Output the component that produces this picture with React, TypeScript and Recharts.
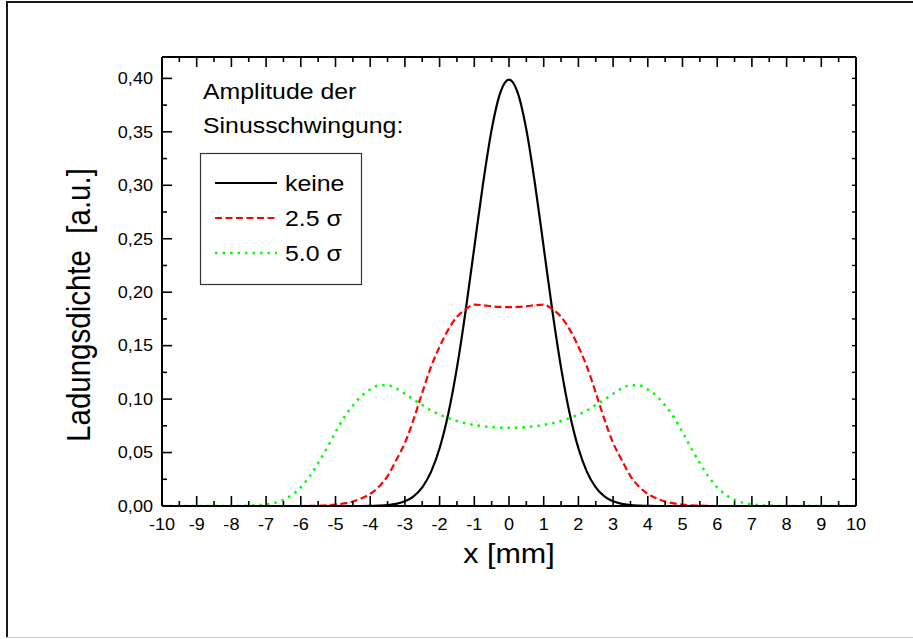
import { LineChart, Line, XAxis, YAxis, Legend } from 'recharts';

const FONT = 'Arial, "Liberation Sans", sans-serif';
// glyphs in this figure are drawn slightly wider than tall
const STRETCH = 1.13;

// positions along x [mm]
const xPositions = [
  -10, -9,
  -8, -7.75, -7.5, -7.25, -7, -6.75, -6.5, -6.25, -6, -5.75, -5.5, -5.25, -5, -4.75, -4.5, -4.25,
  -4, -3.75, -3.5, -3.25, -3, -2.75, -2.5, -2.25, -2, -1.75, -1.5, -1.25, -1, -0.75, -0.5, -0.25,
  0,
  0.25, 0.5, 0.75, 1, 1.25, 1.5, 1.75, 2, 2.25, 2.5, 2.75, 3, 3.25, 3.5, 3.75, 4,
  4.25, 4.5, 4.75, 5, 5.25, 5.5, 5.75, 6, 6.25, 6.5, 6.75, 7, 7.25, 7.5, 7.75, 8,
  9, 10,
];

// charge density, no oscillation
const keine = [
  0, 0,
  0, 0, 0, 0, 0, 0, 0, 0, 0, 0, 0, 0, 0, 0, 0, 0,
  0.0001, 0.0004, 0.0009, 0.002, 0.0044, 0.0091, 0.0175, 0.0317, 0.054, 0.0863, 0.1295, 0.1826, 0.242, 0.3011, 0.3521, 0.3867,
  0.3989,
  0.3867, 0.3521, 0.3011, 0.242, 0.1826, 0.1295, 0.0863, 0.054, 0.0317, 0.0175, 0.0091, 0.0044, 0.002, 0.0009, 0.0004, 0.0001,
  0, 0, 0, 0, 0, 0, 0, 0, 0, 0, 0, 0, 0, 0, 0, 0,
  0, 0,
];

// oscillation amplitude 2.5 sigma
const sigma25 = [
  0, 0,
  0, 0, 0, 0, 0, 0, 0, 0, 0, 0.0001, 0.0003, 0.0007, 0.0013, 0.0024, 0.0042, 0.0072,
  0.0113, 0.018, 0.028, 0.043, 0.059, 0.081, 0.106, 0.13, 0.149, 0.165, 0.177, 0.184, 0.1884, 0.1878, 0.1868, 0.1862,
  0.186,
  0.1862, 0.1868, 0.1878, 0.1884, 0.184, 0.177, 0.165, 0.149, 0.13, 0.106, 0.081, 0.059, 0.043, 0.028, 0.018, 0.0113,
  0.0072, 0.0042, 0.0024, 0.0013, 0.0007, 0.0003, 0.0001, 0, 0, 0, 0, 0, 0, 0, 0, 0,
  0, 0,
];

// oscillation amplitude 5.0 sigma
const sigma50 = [
  0, 0,
  0, 0.0001, 0.0003, 0.0007, 0.0015, 0.003, 0.0058, 0.0105, 0.0175, 0.0275, 0.04, 0.054, 0.069, 0.083, 0.094, 0.103,
  0.109, 0.1128, 0.113, 0.11, 0.105, 0.0995, 0.0945, 0.0895, 0.0855, 0.0822, 0.0795, 0.0774, 0.0758, 0.0746, 0.0738, 0.0733,
  0.0732,
  0.0733, 0.0738, 0.0746, 0.0758, 0.0774, 0.0795, 0.0822, 0.0855, 0.0895, 0.0945, 0.0995, 0.105, 0.11, 0.113, 0.1128, 0.109,
  0.103, 0.094, 0.083, 0.069, 0.054, 0.04, 0.0275, 0.0175, 0.0105, 0.0058, 0.003, 0.0015, 0.0007, 0.0003, 0.0001, 0,
  0, 0,
];

const xTicks = [
  -10, -9.5, -9, -8.5, -8, -7.5, -7, -6.5, -6, -5.5, -5, -4.5, -4, -3.5, -3, -2.5, -2, -1.5, -1, -0.5,
  0, 0.5, 1, 1.5, 2, 2.5, 3, 3.5, 4, 4.5, 5, 5.5, 6, 6.5, 7, 7.5, 8, 8.5, 9, 9.5, 10,
];
const yTicks = [
  0, 0.025, 0.05, 0.075, 0.1, 0.125, 0.15, 0.175, 0.2, 0.225, 0.25, 0.275, 0.3, 0.325, 0.35, 0.375, 0.4,
];

const series = [
  { key: 'keine', name: 'keine', stroke: '#000000', dash: undefined as string | undefined, width: 2.2 },
  { key: 'sigma25', name: '2.5 σ', stroke: '#ff0000', dash: '7 3.5', width: 2.2 },
  { key: 'sigma50', name: '5.0 σ', stroke: '#00ff00', dash: '2.5 5', width: 2.5 },
];

const data = xPositions.map((x, i) => ({
  x,
  keine: keine[i],
  sigma25: sigma25[i],
  sigma50: sigma50[i],
}));

const AXIS_LINE = { stroke: '#000', strokeWidth: 2 };

function StretchText({ x, y, size, anchor = 'start', rotate = 0, children }: any) {
  const rot = rotate ? ` rotate(${rotate})` : '';
  return (
    <text
      transform={`translate(${x} ${y}) scale(${STRETCH} 1)${rot}`}
      fontSize={size}
      fontFamily={FONT}
      textAnchor={anchor}
      fill="#000"
    >
      {children}
    </text>
  );
}

const isMajorX = (v: number) => Number.isInteger(v);
const isMajorY = (v: number) => Math.round(v * 1000) % 50 === 0;

const BottomTick = (props: any) => {
  const { x, y, payload } = props;
  const major = isMajorX(payload.value);
  return (
    <g>
      <line x1={x} y1={y} x2={x} y2={y - (major ? 10 : 5)} stroke="#000" strokeWidth={1.6} />
      {major && (
        <StretchText x={x} y={y + 24} size={16} anchor="middle">
          {String(payload.value)}
        </StretchText>
      )}
    </g>
  );
};

const TopTick = (props: any) => {
  const { x, y, payload } = props;
  const major = isMajorX(payload.value);
  return <line x1={x} y1={y} x2={x} y2={y + (major ? 10 : 5)} stroke="#000" strokeWidth={1.6} />;
};

const LeftTick = (props: any) => {
  const { x, y, payload } = props;
  const major = isMajorY(payload.value);
  return (
    <g>
      <line x1={x} y1={y} x2={x + (major ? 10 : 5)} y2={y} stroke="#000" strokeWidth={1.6} />
      {major && (
        <StretchText x={x - 9} y={y + 5.8} size={16} anchor="end">
          {payload.value.toFixed(2).replace('.', ',')}
        </StretchText>
      )}
    </g>
  );
};

const RightTick = (props: any) => {
  const { x, y } = props;
  return <line x1={x} y1={y} x2={x - 4} y2={y} stroke="#000" strokeWidth={1.4} />;
};

const XTitle = () => (
  <StretchText x={509} y={563} size={27} anchor="middle">
    x [mm]
  </StretchText>
);

const YTitle = () => (
  <StretchText x={90} y={305} size={29.5} anchor="middle" rotate={-90}>
    {'Ladungsdichte\u00a0 [a.u.]'}
  </StretchText>
);

const LegendBox = (props: any) => {
  const payload = props.payload || [];
  return (
    <svg width={200} height={230} style={{ overflow: 'visible' }}>
      <StretchText x={8} y={29} size={22}>Amplitude der</StretchText>
      <StretchText x={8} y={63} size={22}>Sinusschwingung:</StretchText>
      <rect x={5.5} y={83.5} width={161} height={131} fill="none" stroke="#333" strokeWidth={1.2} />
      {series.map((s, i) => {
        const entry = payload.find((p: any) => p.dataKey === s.key);
        const cy = 113 + i * 35;
        return (
          <g key={s.key}>
            <line x1={20} x2={82} y1={cy} y2={cy} stroke={s.stroke} strokeWidth={s.width} strokeDasharray={s.dash} />
            <StretchText x={90} y={cy + 8} size={22}>{entry ? entry.value : s.name}</StretchText>
          </g>
        );
      })}
    </svg>
  );
};

export default function App() {
  return (
    <div
      style={{
        position: 'absolute',
        left: 0,
        top: 0,
        width: 913,
        height: 639,
        background: '#fff',
        fontFamily: FONT,
      }}
    >
      {/* page frame */}
      <div style={{ position: 'absolute', left: 6, top: 1, width: 907, height: 2, background: '#1a1a1a' }} />
      <div style={{ position: 'absolute', left: 6, top: 1, width: 2, height: 637, background: '#1a1a1a' }} />
      <div style={{ position: 'absolute', left: 6, top: 637, width: 907, height: 1, background: '#cfcfcf' }} />

      <LineChart
        width={913}
        height={639}
        data={data}
        margin={{ top: 47, right: 47, bottom: 103, left: 122 }}
      >
        <XAxis
          xAxisId="bottom"
          dataKey="x"
          type="number"
          domain={[-10, 10]}
          ticks={xTicks}
          interval={0}
          tickSize={0}
          tickMargin={0}
          tickLine={false}
          axisLine={AXIS_LINE}
          tick={BottomTick}
          height={30}
          label={XTitle}
          allowDataOverflow
        />
        <XAxis
          xAxisId="top"
          orientation="top"
          dataKey="x"
          type="number"
          domain={[-10, 10]}
          ticks={xTicks}
          interval={0}
          tickSize={0}
          tickMargin={0}
          tickLine={false}
          axisLine={AXIS_LINE}
          tick={TopTick}
          height={10}
          allowDataOverflow
        />
        <YAxis
          yAxisId="left"
          type="number"
          domain={[0, 0.42]}
          ticks={yTicks}
          interval={0}
          tickSize={0}
          tickMargin={0}
          tickLine={false}
          axisLine={AXIS_LINE}
          tick={LeftTick}
          width={40}
          label={YTitle}
          allowDataOverflow
        />
        <YAxis
          yAxisId="right"
          orientation="right"
          type="number"
          domain={[0, 0.42]}
          ticks={yTicks}
          interval={0}
          tickSize={0}
          tickMargin={0}
          tickLine={false}
          axisLine={AXIS_LINE}
          tick={RightTick}
          width={10}
          allowDataOverflow
        />
        <Legend
          layout="vertical"
          align="center"
          verticalAlign="middle"
          content={LegendBox}
          wrapperStyle={{ left: 195, top: 70, width: 200, height: 230 }}
        />
        {series.map((s) => (
          <Line
            key={s.key}
            xAxisId="bottom"
            yAxisId="left"
            dataKey={s.key}
            name={s.name}
            type="monotone"
            stroke={s.stroke}
            strokeWidth={s.width}
            strokeDasharray={s.dash}
            dot={false}
            activeDot={false}
            isAnimationActive={false}
          />
        ))}
      </LineChart>
    </div>
  );
}
